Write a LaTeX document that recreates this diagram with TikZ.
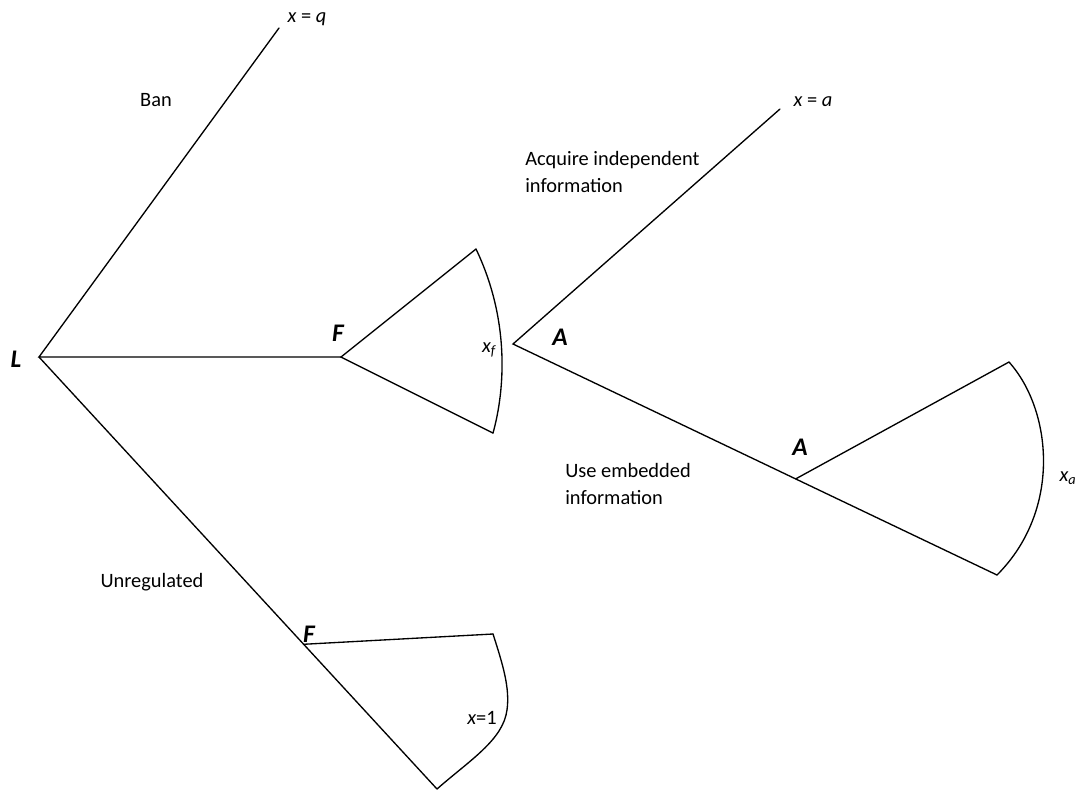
\documentclass[tikz,border=0pt]{standalone}
\usepackage{fontspec}
\setmainfont{Carlito}
\usetikzlibrary{calc}
\begin{document}
\begin{tikzpicture}[x=0.75pt,y=-0.75pt,
  edge/.style={line width=1pt,line cap=round,line join=miter},
  lbl/.style={font=\fontsize{15.3}{20.25}\selectfont,inner sep=0pt,align=left},
  pl/.style={font=\fontsize{19}{22}\selectfont\bfseries\itshape,inner sep=0pt}]
\useasboundingbox (0,0) rectangle (1082,790);
% vertices
\coordinate (L) at (39,357);
\coordinate (Ftop) at (341,357);
\coordinate (Q) at (279,28);
\coordinate (B) at (437,789);
\coordinate (Fbot) at ($(L)!0.665!(B)$);
\coordinate (f1) at (476,249);
\coordinate (f2) at (493,433);
\coordinate (u1) at (493,634);
\coordinate (A1) at (513,344);
\coordinate (Aq) at (780,109);
\coordinate (Ae) at (997,575);
\coordinate (A2) at ($(A1)!0.584!(Ae)$);
\coordinate (a1) at (1009,362);
% branches
\draw[edge] (Q) -- (L) -- (Ftop);
\draw[edge] (L) -- (B);
\draw[edge] (f1) -- (Ftop) -- (f2);
\draw[edge] (f1) .. controls (510,320) and (505,390) .. (f2);
\draw[edge] (Fbot) -- (u1);
\draw[edge] (u1) .. controls (503,665) and (510,688) .. (507,710) .. controls (503,740) and (470,760) .. (B);
\draw[edge] (Aq) -- (A1) -- (Ae);
\draw[edge] (A2) -- (a1);
\draw[edge] (a1) .. controls (1052,410) and (1062,510) .. (Ae);
% labels
\node[pl] (lL) at (16,359) {L};
\node[pl] (lF1) at (338,333) {F};
\node[pl] (lF2) at (309,634) {F};
\node[pl] (lA1) at (560,337) {A};
\node[pl] (lA2) at (800,447) {A};
\node[lbl] (tq) at (307,19) {\textit{x} = \textit{q}};
\node[lbl] (ta) at (813,102) {\textit{x} = \textit{a}};
\node[lbl] (tban) at (156,100) {Ban};
\node[lbl,anchor=west] (tacq) at (525,172) {Acquire independent\\information};
\node[lbl,anchor=west] (tuse) at (565,484) {Use embedded\\information};
\node[lbl] (tunr) at (152,582) {Unregulated};
\node[lbl] (txf) at (489,350) {\textit{x\textsubscript{f}}};
\node[lbl] (txa) at (1068,478) {\textit{x\textsubscript{a}}};
\node[lbl] (tx1) at (482,718) {\textit{x}=1};
\end{tikzpicture}
\end{document}
